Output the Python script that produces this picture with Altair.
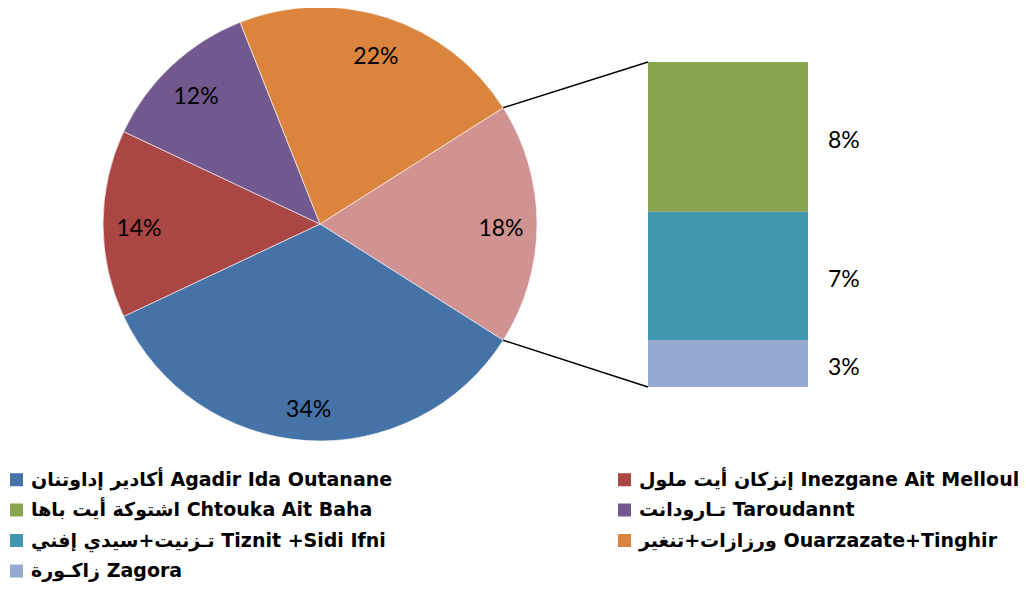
import math
import altair as alt
import pandas as pd

# ---------------- data ----------------
AGADIR = "أكادير إداوتنان Agadir Ida Outanane"
INEZGANE = "إنزكان أيت ملول Inezgane Ait Melloul"
CHTOUKA = "اشتوكة أيت باها  Chtouka Ait Baha"
TAROUDANNT = "تـارودانت  Taroudannt"
TIZNIT = "تـزنيت+سيدي إفني Tiznit +Sidi Ifni"
OUARZAZATE = "ورزازات+تنغير Ouarzazate+Tinghir"
ZAGORA = "زاكـورة Zagora"
OTHER = "Other"

# main pie slices (percent)
pie_names = [AGADIR, INEZGANE, TAROUDANNT, OUARZAZATE]
pie_values = [34, 14, 12, 22]

# secondary bar (split of the "Other" slice, percent)
bar_names = [CHTOUKA, TIZNIT, ZAGORA]
bar_values = [8.3, 7.1, 2.6]

# legend entries, listed column by column (2 columns)
legend_order = [AGADIR, CHTOUKA, TIZNIT, ZAGORA, INEZGANE, TAROUDANNT, OUARZAZATE]
legend_colors = ["#4572A7", "#89A54E", "#4198AF", "#93A9CF", "#AA4643", "#71588F", "#DB843D"]
other_color = "#D19392"

# ---------------- layout ----------------
W, H = 1010, 574
CX, CY, R = 312, 216, 217
LABEL_R = 181
BAR_X0, BAR_X1 = 640, 800
BAR_TOP, BAR_BOTTOM = 54, 379
BAR_LABEL_X = 820
FONT = "Lato, DejaVu Sans, sans-serif"
LEGEND_FONT = "DejaVu Sans"

other_total = sum(bar_values)
total = sum(pie_values) + other_total
# "Other" slice centred on the 3 o'clock direction
a0 = math.pi / 2 - (other_total / total) * math.pi
a1 = a0 + (other_total / total) * 2 * math.pi

pie_df = pd.DataFrame({
    "name": [OTHER] + pie_names,
    "value": [other_total] + pie_values,
    "ord": list(range(len(pie_names) + 1)),
})
bar_df = pd.DataFrame({
    "name": bar_names,
    "value": bar_values,
    "ord": [2, 1, 0],  # stacked from bottom
})

color_scale = alt.Scale(domain=legend_order + [OTHER], range=legend_colors + [other_color])
legend = alt.Legend(
    orient="none", legendX=-1, legendY=462, columns=2, columnPadding=222,
    symbolType="square", symbolSize=169, symbolStrokeWidth=0, symbolOpacity=1,
    labelFont=LEGEND_FONT, labelFontSize=19, labelFontWeight="bold", labelColor="black",
    labelLimit=700, labelOffset=5, rowPadding=10.5, padding=0, title=None,
    values=legend_order,
)

theta = alt.Theta("value:Q", stack=True,
                  scale=alt.Scale(range=[a0, a0 + 2 * math.pi]))

base_pie = alt.Chart(pie_df).encode(
    theta=theta,
    order=alt.Order("ord:Q"),
    x=alt.value(CX), y=alt.value(CY),
)
arcs = base_pie.mark_arc(outerRadius=R, stroke="white", strokeWidth=0.6).encode(
    color=alt.Color("name:N", scale=color_scale, legend=legend)
)
pie_text = base_pie.mark_text(radius=LABEL_R, dy=5, font=FONT, fontSize=23, color="black").encode(
    text="label:N"
).transform_calculate(label="format(datum.value, '.0f') + '%'")

yscale = alt.Scale(domain=[0, other_total], range=[BAR_BOTTOM, BAR_TOP])
base_bar = alt.Chart(bar_df).transform_stack(
    stack="value", as_=["v0", "v1"], groupby=[], sort=[alt.SortField("ord", order="ascending")]
).transform_calculate(mid="(datum.v0 + datum.v1) / 2",
                      label="format(datum.value, '.0f') + '%'")
bars = base_bar.mark_bar().encode(
    x=alt.value(BAR_X0), x2=alt.value(BAR_X1),
    y=alt.Y("v0:Q", scale=yscale, axis=None), y2="v1:Q",
    color=alt.Color("name:N", scale=color_scale, legend=legend),
)
bar_text = base_bar.mark_text(align="left", dy=4, font=FONT, fontSize=23, color="black").encode(
    x=alt.value(BAR_LABEL_X),
    y=alt.Y("mid:Q", scale=yscale, axis=None),
    text="label:N",
)

# connector lines from the "Other" slice edges to the bar corners
top_pt = (CX + R * math.sin(a0), CY - R * math.cos(a0))
bot_pt = (CX + R * math.sin(a1), CY - R * math.cos(a1))
conn_top = alt.Chart(pd.DataFrame({"k": [0]})).mark_rule(color="black", strokeWidth=1.5).encode(
    x=alt.value(top_pt[0]), y=alt.value(top_pt[1]), x2=alt.value(BAR_X0), y2=alt.value(BAR_TOP))
conn_bot = alt.Chart(pd.DataFrame({"k": [0]})).mark_rule(color="black", strokeWidth=1.5).encode(
    x=alt.value(bot_pt[0]), y=alt.value(bot_pt[1]), x2=alt.value(BAR_X0), y2=alt.value(BAR_BOTTOM))

chart = alt.layer(arcs, pie_text, bars, bar_text, conn_top, conn_bot).properties(
    width=W, height=H, padding=0, autosize="none", background="white"
).configure_view(stroke=None)

chart.save("out.html", embed_options={"renderer": "svg", "actions": False})
